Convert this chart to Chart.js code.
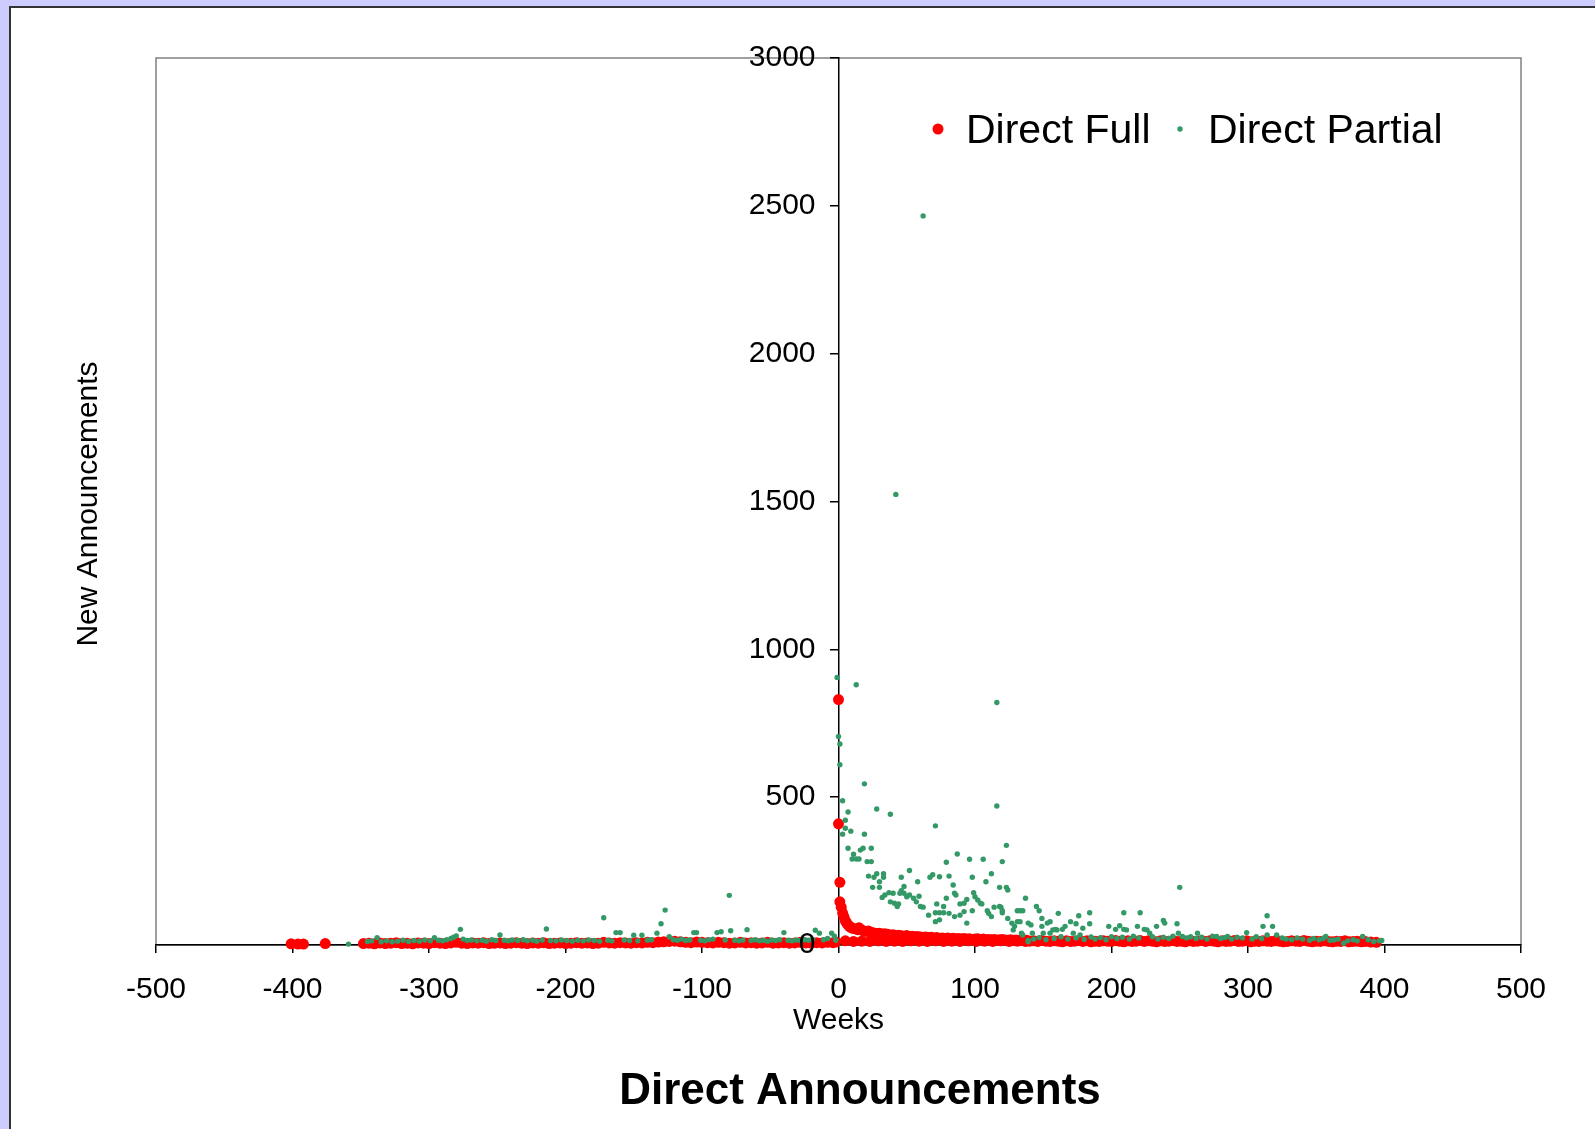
<!DOCTYPE html>
<html>
<head>
<meta charset="utf-8">
<title>Direct Announcements</title>
<script src="https://cdn.jsdelivr.net/npm/chart.js@4.4.1/dist/chart.umd.min.js"></script>
<style>
  html, body { margin: 0; padding: 0; width: 1595px; height: 1129px; overflow: hidden; background: #ccccff; }
  #panel { position: absolute; left: 9px; top: 6px; width: 1600px; height: 1140px; background: #fff;
           border-left: 2px solid #333; border-top: 2px solid #333; }
  #chart { position: absolute; left: 0; top: 0; }
</style>
</head>
<body>
<div id="panel"></div>
<canvas id="chart" width="1595" height="1129"></canvas>
<script>
// ---- data ----
const seriesNames = ['Direct Full', 'Direct Partial'];
const xTickLabels = ['-500', '-400', '-300', '-200', '-100', '0', '100', '200', '300', '400', '500'];
const yTickLabels = ['0', '500', '1000', '1500', '2000', '2500', '3000'];

// Direct Full (weeks, new announcements)
const fullWeeks = [
  -401, -396, -392, -376,
  -348, -344, -340, -336, -332, -328, -324, -320, -316, -312,
  -308, -304, -300, -296, -292, -288, -284, -280, -276, -272,
  -268, -264, -260, -256, -252, -248, -244, -240, -236, -232,
  -228, -224, -220, -216, -212, -208, -204, -200, -196, -192,
  -188, -184, -180, -176, -172, -168, -164, -160, -156, -152,
  -148, -144, -140, -136, -132, -128, -124, -120, -116, -112,
  -108, -104, -100, -96, -92, -88, -84, -80, -76, -72,
  -68, -64, -60, -56, -52, -48, -44, -40, -36, -32,
  -28, -24, -20, -16, -12, -8, -4,
  -2,
  0, 0, 1, 1, 2, 3, 4, 5, 6, 7, 8, 9, 10,
  12, 14, 15, 16,
  18, 20, 22, 24, 26, 28, 30, 32, 34, 36,
  38, 40, 42, 44, 46, 48, 50, 52, 54, 56,
  58, 60, 62, 64, 66, 68, 70, 72, 74, 76,
  78, 80, 82, 84, 86, 88, 90, 92, 94, 96,
  98, 100, 102, 104, 106, 108, 110, 112, 114, 116,
  118, 120, 122, 124, 126, 128, 130, 132, 134, 136,
  138,
  5, 11, 17, 23, 29, 35, 41, 47, 53, 59, 65, 71, 77, 83, 89, 95, 101, 107, 113, 119, 125, 131, 137,
  140, 143, 146, 149, 152, 155, 158, 161, 164, 167,
  170, 173, 176, 179, 182, 185, 188, 191, 194, 197,
  200, 203, 206, 209, 212, 215, 218, 221, 224, 227,
  230, 233, 236, 239, 242, 245, 248, 251, 254, 257,
  260, 263, 266, 269, 272, 275, 278, 281, 284, 287,
  290, 293, 296, 299, 302, 305, 308, 311, 314, 317,
  320, 323, 326, 329, 332, 335, 338, 341, 344, 347,
  350, 353, 356, 359, 362, 365, 368, 371, 374, 377,
  380, 383, 386,
  390, 394
];
const fullValues = [
  4, 3, 3, 5,
  5, 6, 4, 7, 5, 6, 8, 5, 6, 4,
  7, 6, 5, 8, 6, 5, 7, 9, 6, 5,
  7, 6, 8, 5, 6, 7, 5, 6, 8, 6,
  5, 7, 6, 8, 5, 6, 7, 5, 6, 8,
  6, 7, 5, 6, 9, 7, 6, 8, 7, 6,
  8, 7, 9, 8, 10, 11, 12, 13, 11, 9,
  8, 10, 9, 8, 7, 9, 8, 6, 7, 9,
  7, 8, 6, 7, 9, 6, 7, 8, 6, 7,
  9, 7, 6, 8, 7, 9, 8,
  10,
  830, 410, 212, 146, 128, 108, 95, 82, 74, 68, 63, 60, 57,
  55, 52, 58, 54,
  48, 46, 47, 43, 41, 39, 40, 37, 38, 36,
  34, 35, 32, 33, 31, 30, 32, 29, 30, 28,
  29, 27, 26, 27, 25, 26, 24, 25, 23, 24,
  22, 24, 22, 23, 21, 22, 20, 22, 20, 21,
  19, 20, 21, 19, 20, 18, 19, 18, 19, 17,
  18, 19, 17, 16, 18, 16, 17, 15, 16, 15,
  16,
  14, 12, 13, 12, 14, 12, 13, 12, 14, 13, 12, 14, 12, 13, 12, 14, 12, 13, 12, 14, 12, 13, 12,
  13, 14, 12, 15, 13, 12, 14, 13, 11, 14,
  12, 13, 15, 12, 14, 11, 13, 12, 14, 13,
  12, 15, 13, 11, 14, 12, 13, 15, 12, 14,
  13, 11, 14, 12, 13, 15, 12, 13, 11, 14,
  12, 13, 15, 12, 14, 13, 11, 14, 12, 13,
  15, 12, 13, 14, 11, 13, 12, 14, 13, 12,
  14, 13, 11, 12, 14, 13, 12, 15, 13, 11,
  13, 12, 14, 12, 11, 13, 12, 14, 11, 12,
  13, 11, 12,
  10, 9
];

// Direct Partial (weeks, new announcements)
const partialWeeks = [
  -359, -345, -342, -338, -335, -331, -327, -323, -319, -315,
  -311, -307, -303, -299, -296, -293, -290, -287, -284, -282,
  -280, -277, -275, -272, -269, -265, -261, -258, -254, -251,
  -248, -245, -242, -239, -235, -231, -228, -224, -221, -217,
  -214, -211, -207, -203, -199, -195, -191, -187, -183, -179,
  -175, -172, -169, -166, -163, -160, -157, -153, -150, -147,
  -144, -140, -137, -133, -130, -127, -124, -121, -118, -115,
  -112, -109, -106, -104, -101, -98, -95, -92, -89, -86,
  -83, -80, -79, -76, -73, -70, -67, -64, -61, -58,
  -55, -52, -49, -46, -43, -40, -37, -34, -31, -28,
  -25, -22, -19, -17, -14, -11, -8, -5, -3, -2,
  -1, 13, 0, 1, 1, 19, 3, 7, 5, 5,
  3, 9, 19, 7, 11, 13, 15, 16, 18, 10,
  24, 21, 24, 22, 26, 28, 25, 30, 30, 33,
  33, 32, 34, 37, 40, 38, 41, 43, 44, 46,
  48, 46, 45, 48, 50, 52, 52, 55, 57, 59,
  60, 62, 58, 66, 71, 72, 74, 77, 74, 71,
  67, 69, 74, 79, 81, 84, 85, 86, 79, 77,
  81, 87, 85, 89, 92, 94, 89, 92, 94, 96,
  98, 98, 99, 100, 102, 104, 105, 106, 108, 109,
  110, 112, 114, 119, 120, 112, 120, 123, 118, 123,
  124, 131, 133, 135, 127, 129, 131, 133, 137, 135,
  139, 141, 142, 139, 145, 147, 149, 149, 150, 153,
  155, 155, 161, 157, 160, 62, 42, 116, 116, 28,
  38, 71, 118, 120, 124, 128, 134, 139, 159, 164,
  166, 170, 172, 174, 176, 177, 179, 184, 184, 198,
  203, 206, 209, 209, 211, 219, 221, 224, 226, 228,
  233, 238, 239, 248, 250, 249, 252, 263, 277, 285,
  299, 311, 314, 318, 314, 321, 357, 363, 370, 384,
  398, 143, 147, 152, 158, 163, 168, 174, 180, 185,
  188, 192, 196, 200, 204, 208, 213, 216, 220, 230,
  234, 238, 242, 245, 255, 258, 262, 266, 270, 274,
  280, 283, 288, 292, 296, 303, 306, 310, 325, 328,
  332, 336, 340, 345, 348, 352, 355, 360, 366, 373,
  377, 380, 388, 392, 396
];
const partialValues = [
  3, 12, 14, 25, 11, 14, 11, 13, 16, 12,
  15, 13, 17, 14, 25, 16, 14, 18, 22, 26,
  31, 53, 20, 15, 17, 14, 16, 13, 18, 15,
  34, 16, 14, 17, 15, 18, 14, 16, 13, 17,
  54, 15, 14, 17, 15, 13, 16, 14, 17, 15,
  13, 92, 16, 14, 42, 42, 17, 15, 33, 14,
  33, 16, 18, 40, 72, 118, 28, 18, 16, 20,
  15, 17, 42, 42, 16, 14, 18, 20, 42, 45,
  17, 168, 48, 16, 14, 17, 52, 15, 18, 14,
  16, 13, 17, 15, 18, 42, 16, 14, 17, 15,
  18, 16, 20, 50, 40, 18, 22, 40, 30, 16,
  905, 880, 705, 680, 610, 545, 488, 450, 422, 395,
  375, 385, 375, 327, 307, 291, 291, 321, 327, 291,
  327, 282, 282, 233, 229, 241, 195, 195, 214, 229,
  241, 161, 169, 177, 175, 146, 141, 130, 139, 229,
  198, 184, 175, 175, 163, 169, 252, 158, 146, 165,
  130, 128, 214, 101, 109, 139, 109, 130, 85, 79,
  229, 238, 231, 280, 233, 203, 175, 169, 158, 109,
  107, 308, 96, 101, 113, 74, 139, 141, 154, 290,
  229, 116, 177, 163, 152, 141, 139, 290, 214, 116,
  107, 96, 128, 128, 109, 241, 282, 337, 195, 195,
  186, 116, 116, 116, 74, 63, 79, 79, 158, 34,
  74, 68, 40, 11, 130, 116, 90, 63, 40, 74,
  79, 40, 107, 51, 51, 2466, 1524, 820, 470, 460,
  442, 403, 130, 116, 90, 51, 40, 15, 53, 53,
  63, 79, 40, 72, 99, 34, 57, 72, 109, 63,
  53, 65, 109, 53, 51, 63, 109, 53, 51, 40,
  63, 83, 74, 72, 195, 40, 29, 40, 29, 29,
  42, 63, 99, 63, 34, 34, 29, 17, 6, 29,
  15, 20, 25, 18, 22, 28, 20, 24, 19, 27,
  20, 25, 18, 28, 22, 26, 20, 30, 24, 28,
  20, 26, 22, 30, 24, 28, 22, 26, 20, 30,
  22, 25, 20, 26, 24, 20, 28, 22, 24, 20,
  18, 24, 20, 16, 22, 18, 22, 16, 20, 14,
  18, 14, 18, 12, 14
];

// ---- drawing ----
const FONT = "'Liberation Sans', Arial, Helvetica, sans-serif";
const toPoints = (xs, ys) => xs.map((x, i) => ({ x: x, y: ys[i] }));

// grey frame round the plot area
const framePlugin = {
  id: 'frame',
  beforeDraw(chart) {
    const { ctx, chartArea: a } = chart;
    ctx.save();
    ctx.strokeStyle = '#808080';
    ctx.lineWidth = 1.5;
    ctx.strokeRect(a.left, a.top, a.right - a.left, a.bottom - a.top);
    ctx.restore();
  }
};

// the y axis sits at week 0, Chart.js puts its labels flush on the line: push them left
const yLabelGap = {
  id: 'yLabelGap',
  afterLayout(chart) {
    chart.scales.y.getLabelItems().forEach(item => { item.options.translation[0] -= 23; });
  }
};

// y title, chart title and the legend inside the plot
const textPlugin = {
  id: 'texts',
  afterDraw(chart) {
    const c = chart.ctx;
    c.save();
    c.fillStyle = '#000';
    c.font = '30px ' + FONT;
    c.textAlign = 'center';
    c.textBaseline = 'alphabetic';
    c.translate(97, 504);
    c.rotate(-Math.PI / 2);
    c.fillText('New Announcements', 0, 0);
    c.restore();

    c.save();
    c.fillStyle = '#000';
    c.textBaseline = 'alphabetic';
    c.font = 'bold 44px ' + FONT;
    c.textAlign = 'center';
    c.fillText('Direct Announcements', 860, 1104);

    const dotX = [938, 1180], textX = [966, 1208];
    c.font = '41px ' + FONT;
    c.textAlign = 'left';
    chart.data.datasets.forEach((ds, i) => {
      c.fillStyle = ds.backgroundColor;
      c.beginPath();
      c.arc(dotX[i], 129, ds.pointRadius, 0, Math.PI * 2);
      c.fill();
      c.fillStyle = '#000';
      c.fillText(ds.label, textX[i], 143);
    });
    c.restore();
  }
};

const ctx = document.getElementById('chart').getContext('2d');

new Chart(ctx, {
  type: 'scatter',
  data: {
    datasets: [
      {
        label: seriesNames[0],
        data: toPoints(fullWeeks, fullValues),
        backgroundColor: '#ff0000',
        borderWidth: 0,
        pointRadius: 5.5,
        order: 1,
        clip: false
      },
      {
        label: seriesNames[1],
        data: toPoints(partialWeeks, partialValues),
        backgroundColor: '#339966',
        borderWidth: 0,
        pointRadius: 2.7,
        order: 0,
        clip: false
      }
    ]
  },
  options: {
    responsive: false,
    animation: false,
    devicePixelRatio: 1,
    events: [],
    layout: { padding: { left: 156, right: 74, top: 58, bottom: 90 } },
    plugins: { legend: { display: false }, tooltip: { enabled: false } },
    scales: {
      x: {
        type: 'linear',
        min: -500,
        max: 500,
        ticks: {
          stepSize: 100,
          autoSkip: false,
          maxRotation: 0,
          padding: 19,
          color: '#000',
          font: { family: FONT, size: 30 },
          callback: (v, i) => xTickLabels[i]
        },
        grid: { drawOnChartArea: false, tickLength: 8, color: '#000', lineWidth: 1.5 },
        border: { color: '#000', width: 1.5 },
        title: { display: true, text: 'Weeks', color: '#000', font: { family: FONT, size: 30 }, padding: 0 },
        afterFit: scale => { scale.height = 94; }
      },
      y: {
        type: 'linear',
        min: 0,
        max: 3000,
        position: { x: 0 },
        ticks: {
          stepSize: 500,
          z: 1,
          color: '#000',
          font: { family: FONT, size: 30 },
          callback: (v, i) => yTickLabels[i]
        },
        grid: { drawOnChartArea: false, tickLength: 8, color: '#000', lineWidth: 1.5 },
        border: { color: '#000', width: 1.5 }
      }
    }
  },
  plugins: [framePlugin, yLabelGap, textPlugin]
});
</script>
</body>
</html>
